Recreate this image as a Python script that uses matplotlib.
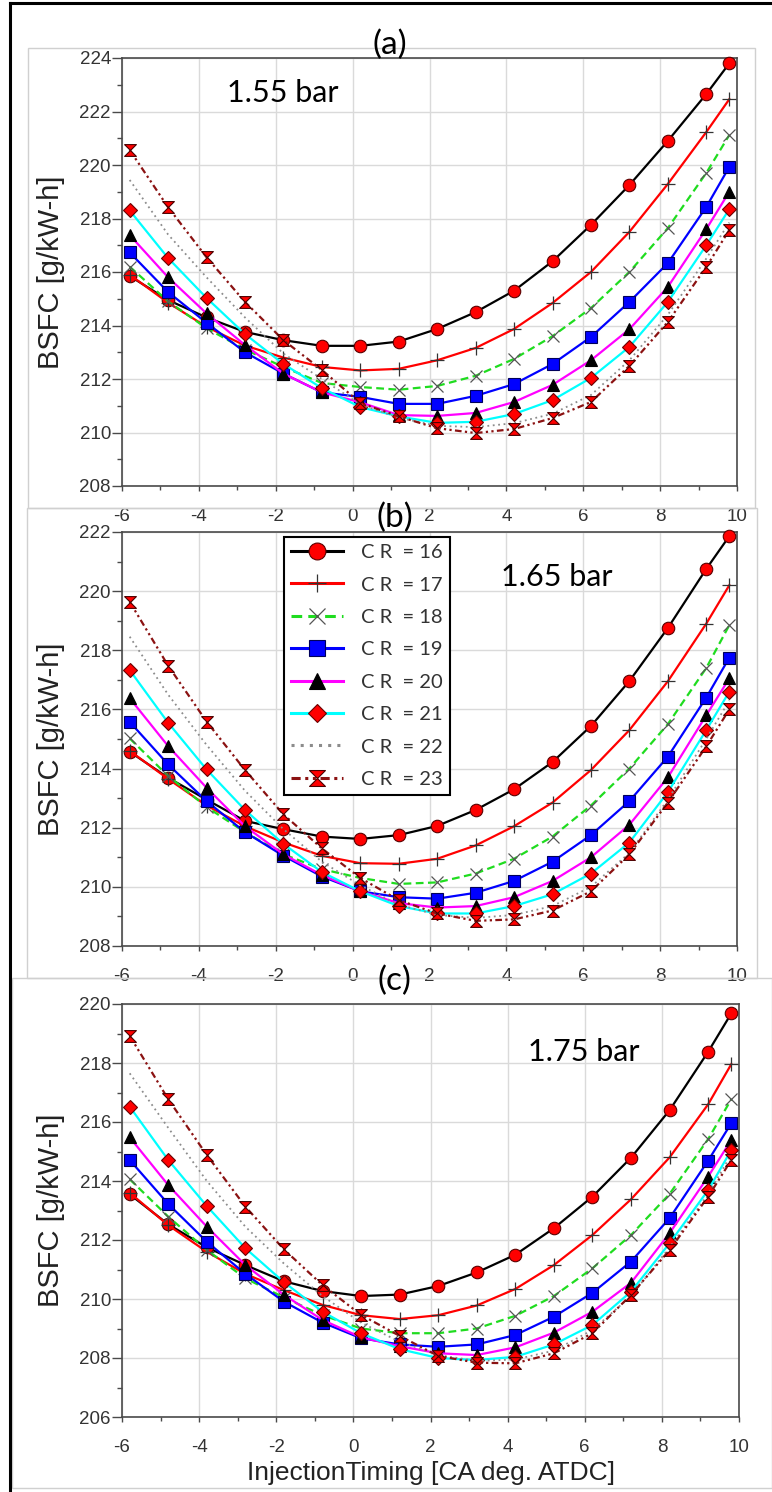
import matplotlib
matplotlib.use("Agg")
import matplotlib.pyplot as plt
from matplotlib.path import Path
from matplotlib.lines import Line2D
from matplotlib.ticker import MultipleLocator

plt.rcParams["font.family"] = ["Liberation Sans", "DejaVu Sans"]
plt.rcParams["axes.unicode_minus"] = False

W, H = 772, 1492

# injection timing points [CA deg. ATDC]
timing = [-5.8, -4.8, -3.8, -2.8, -1.8, -0.8, 0.2, 1.2, 2.2, 3.2, 4.2, 5.2, 6.2, 7.2, 8.2, 9.2, 9.8]
cr_values = [16, 17, 18, 19, 20, 21, 22, 23]

# BSFC [g/kW-h] at 1.55 bar, one row per compression ratio
bsfc_155 = [
    [215.85, 214.95, 214.3, 213.76, 213.45, 213.24, 213.24, 213.4, 213.87, 214.5, 215.3, 216.4, 217.76, 219.25, 220.9, 222.65, 223.8],
    [215.9, 214.85, 213.95, 213.25, 212.8, 212.45, 212.32, 212.38, 212.7, 213.16, 213.87, 214.84, 216.0, 217.5, 219.29, 221.23, 222.46],
    [216.2, 214.9, 213.9, 213.1, 212.45, 211.85, 211.7, 211.6, 211.74, 212.12, 212.75, 213.6, 214.65, 216.0, 217.64, 219.7, 221.12],
    [216.73, 215.25, 214.1, 213.0, 212.2, 211.5, 211.33, 211.07, 211.07, 211.37, 211.81, 212.56, 213.57, 214.88, 216.33, 218.43, 219.93],
    [217.38, 215.8, 214.45, 213.27, 212.2, 211.5, 211.13, 210.65, 210.62, 210.73, 211.14, 211.78, 212.7, 213.86, 215.44, 217.6, 219.0],
    [218.3, 216.52, 215.03, 213.68, 212.56, 211.66, 210.95, 210.6, 210.36, 210.4, 210.69, 211.21, 212.04, 213.2, 214.88, 217.0, 218.35],
    [219.44, 217.4, 215.8, 214.3, 212.95, 212.0, 211.05, 210.55, 210.25, 210.2, 210.35, 210.7, 211.4, 212.7, 214.4, 216.5, 217.85],
    [220.56, 218.42, 216.55, 214.88, 213.45, 212.34, 211.1, 210.6, 210.16, 209.98, 210.13, 210.54, 211.14, 212.49, 214.13, 216.19, 217.57],
]

# BSFC [g/kW-h] at 1.65 bar
bsfc_165 = [
    [214.57, 213.69, 212.95, 212.23, 211.95, 211.7, 211.62, 211.75, 212.06, 212.6, 213.3, 214.22, 215.44, 216.96, 218.75, 220.75, 221.86],
    [214.6, 213.65, 212.75, 212.05, 211.5, 211.05, 210.8, 210.78, 210.95, 211.4, 212.05, 212.85, 213.95, 215.3, 216.95, 218.9, 220.2],
    [215.02, 213.75, 212.7, 211.85, 211.1, 210.6, 210.3, 210.1, 210.15, 210.45, 210.95, 211.7, 212.75, 214.0, 215.5, 217.4, 218.85],
    [215.58, 214.14, 212.9, 211.85, 211.05, 210.35, 209.85, 209.65, 209.6, 209.8, 210.2, 210.85, 211.75, 212.9, 214.4, 216.4, 217.75],
    [216.38, 214.76, 213.35, 212.05, 211.1, 210.4, 209.85, 209.45, 209.3, 209.35, 209.65, 210.2, 211.0, 212.1, 213.7, 215.8, 217.05],
    [217.33, 215.55, 213.97, 212.6, 211.45, 210.5, 209.85, 209.35, 209.1, 209.1, 209.35, 209.75, 210.45, 211.5, 213.2, 215.3, 216.6],
    [218.46, 216.5, 214.8, 213.25, 211.95, 210.85, 210.05, 209.4, 209.05, 208.95, 209.05, 209.35, 210.0, 211.15, 212.95, 215.0, 216.3],
    [219.64, 217.48, 215.59, 213.95, 212.45, 211.3, 210.3, 209.55, 209.1, 208.85, 208.9, 209.2, 209.85, 211.1, 212.85, 214.75, 216.0],
]

# BSFC [g/kW-h] at 1.75 bar
bsfc_175 = [
    [213.55, 212.53, 211.75, 211.15, 210.6, 210.27, 210.1, 210.15, 210.44, 210.9, 211.5, 212.4, 213.47, 214.79, 216.4, 218.38, 219.68],
    [213.6, 212.5, 211.6, 210.85, 210.3, 209.8, 209.45, 209.32, 209.45, 209.78, 210.34, 211.15, 212.17, 213.38, 214.8, 216.6, 217.96],
    [214.06, 212.79, 211.66, 210.7, 210.05, 209.45, 209.0, 208.84, 208.84, 209.0, 209.43, 210.1, 211.04, 212.17, 213.56, 215.42, 216.77],
    [214.71, 213.22, 211.94, 210.85, 209.91, 209.2, 208.67, 208.46, 208.38, 208.46, 208.78, 209.4, 210.21, 211.27, 212.74, 214.69, 215.96],
    [215.48, 213.86, 212.45, 211.15, 210.14, 209.29, 208.7, 208.4, 208.16, 208.1, 208.36, 208.86, 209.57, 210.55, 212.23, 214.15, 215.39],
    [216.52, 214.71, 213.15, 211.72, 210.57, 209.57, 208.84, 208.3, 208.0, 207.93, 208.04, 208.46, 209.12, 210.25, 211.89, 213.69, 215.05],
    [217.65, 215.8, 214.0, 212.45, 211.2, 210.1, 209.2, 208.55, 208.1, 207.9, 207.95, 208.25, 208.95, 210.1, 211.75, 213.55, 214.9],
    [218.92, 216.77, 214.88, 213.13, 211.68, 210.47, 209.46, 208.75, 208.07, 207.84, 207.82, 208.16, 208.84, 210.14, 211.66, 213.47, 214.71],
]

# hourglass marker used for CR = 23
hourglass = Path([(-1, 1), (1, 1), (0, 0), (1, -1), (-1, -1), (0, 0), (-1, 1)])

styles = [
    dict(color="black", ls="-", marker="o", mfc="red", mec="#5a0000", ms=9, mew=0.8),
    dict(color="red", ls="-", marker="+", mec="#333333", ms=10, mew=0.9),
    dict(color="#1fdc1f", ls=(0, (3.5, 2)), marker="x", mec="#555555", ms=9, mew=0.9),
    dict(color="blue", ls="-", marker="s", mfc="blue", mec="#00005a", ms=9, mew=0.8),
    dict(color="magenta", ls="-", marker="^", mfc="black", mec="black", ms=9, mew=0.8),
    dict(color="cyan", ls="-", marker="D", mfc="red", mec="#6a0000", ms=7, mew=0.8),
    dict(color="#8c8c8c", ls=(0, (1, 2)), marker="None"),
    dict(color="#8b1212", ls=(0, (3, 1.5, 1, 1.5, 1, 1.5)), marker=hourglass, mfc="red", mec="#4a0000", ms=8.5, mew=0.8),
]

fig = plt.figure(figsize=(W / 100, H / 100), dpi=100)


def px_axes(left, top, right, bottom):
    return fig.add_axes([left / W, 1 - bottom / H, (right - left) / W, (bottom - top) / H])


def draw_panel(ax, data, ymin, ymax):
    for row, st in zip(data, styles):
        lw = 1.3 if st["marker"] == "None" else 1.6
        ax.plot(timing, row, lw=lw, zorder=3, clip_on=False, **st)
    ax.set_xlim(-6, 10)
    ax.set_ylim(ymin, ymax)
    ax.xaxis.set_major_locator(MultipleLocator(2))
    ax.xaxis.set_minor_locator(MultipleLocator(1))
    ax.yaxis.set_major_locator(MultipleLocator(2))
    ax.yaxis.set_minor_locator(MultipleLocator(1))
    ax.grid(which="major", color="#dadada", lw=1.0, zorder=0)
    for sp in ax.spines.values():
        sp.set_color("#4a4a4a")
        sp.set_linewidth(1.2)
    ax.tick_params(axis="y", which="major", length=7, width=1, color="#4a4a4a",
                   labelsize=13.5, labelcolor="#333333", pad=1)
    ax.tick_params(axis="y", which="minor", length=3.5, width=1, color="#4a4a4a")
    ax.tick_params(axis="x", which="major", length=3.5, width=1, color="#4a4a4a",
                   labelsize=13.5, labelcolor="#333333", pad=12)
    ax.tick_params(axis="x", which="minor", length=3, width=1, color="#4a4a4a")


def ftext(x, y, s, **kw):
    fig.text(x / W, 1 - y / H, s, ha="center", va="center", **kw)


# screenshot borders and outer frame
for (l, t, r, b) in [(28, 48, 755, 508), (27, 508, 757, 978), (12, 978, 772, 1488)]:
    fig.add_artist(plt.Rectangle((l / W, 1 - b / H), (r - l) / W, (b - t) / H,
                                 fill=False, ec="#d0d0d0", lw=1, transform=fig.transFigure))
fig.add_artist(Line2D([10 / W, 10 / W], [0, 1 - 3 / H], color="black", lw=2.2, transform=fig.transFigure))
fig.add_artist(Line2D([10 / W, 1], [1 - 3 / H, 1 - 3 / H], color="black", lw=2.2, transform=fig.transFigure))

ax_a = px_axes(122, 58, 737, 486)
draw_panel(ax_a, bsfc_155, 208, 224)
ax_b = px_axes(122, 532, 737, 946)
draw_panel(ax_b, bsfc_165, 208, 222)
ax_c = px_axes(122, 1004, 739, 1417)
draw_panel(ax_c, bsfc_175, 206, 220)

for yc in [272, 739, 1210]:
    ftext(51, yc, "BSFC [g/kW-h]", rotation=90, fontsize=21, color="#222222")
ftext(431, 1473, "InjectionTiming [CA deg. ATDC]", fontsize=19, color="#222222")

ftext(390, 45, "(a)", fontsize=24, family="Lato")
ftext(395, 518, "(b)", fontsize=24, family="Lato")
ftext(394, 981, "(c)", fontsize=24, family="Lato")
ftext(283, 93, "1.55 bar", fontsize=22, family="Lato")
ftext(557, 577, "1.65 bar", fontsize=22, family="Lato")
ftext(584, 1052, "1.75 bar", fontsize=22, family="Lato")

handles = [Line2D([], [], lw=2.2, **st) for st in styles]
labels = ["C R  = %d" % cr for cr in cr_values]
leg = ax_b.legend(handles, labels, loc="upper left", bbox_to_anchor=(0.263, 0.988),
                  borderaxespad=0, fancybox=False, framealpha=1, edgecolor="black",
                  handlelength=2.6, handletextpad=0.9, borderpad=0.35,
                  markerscale=1.35, labelspacing=0.76,
                  prop={"family": "Lato", "size": 14.5})
for t in leg.get_texts():
    t.set_color("#333333")
leg.get_frame().set_linewidth(1.5)
leg.set_zorder(10)

fig.savefig("out.png", dpi=100)
